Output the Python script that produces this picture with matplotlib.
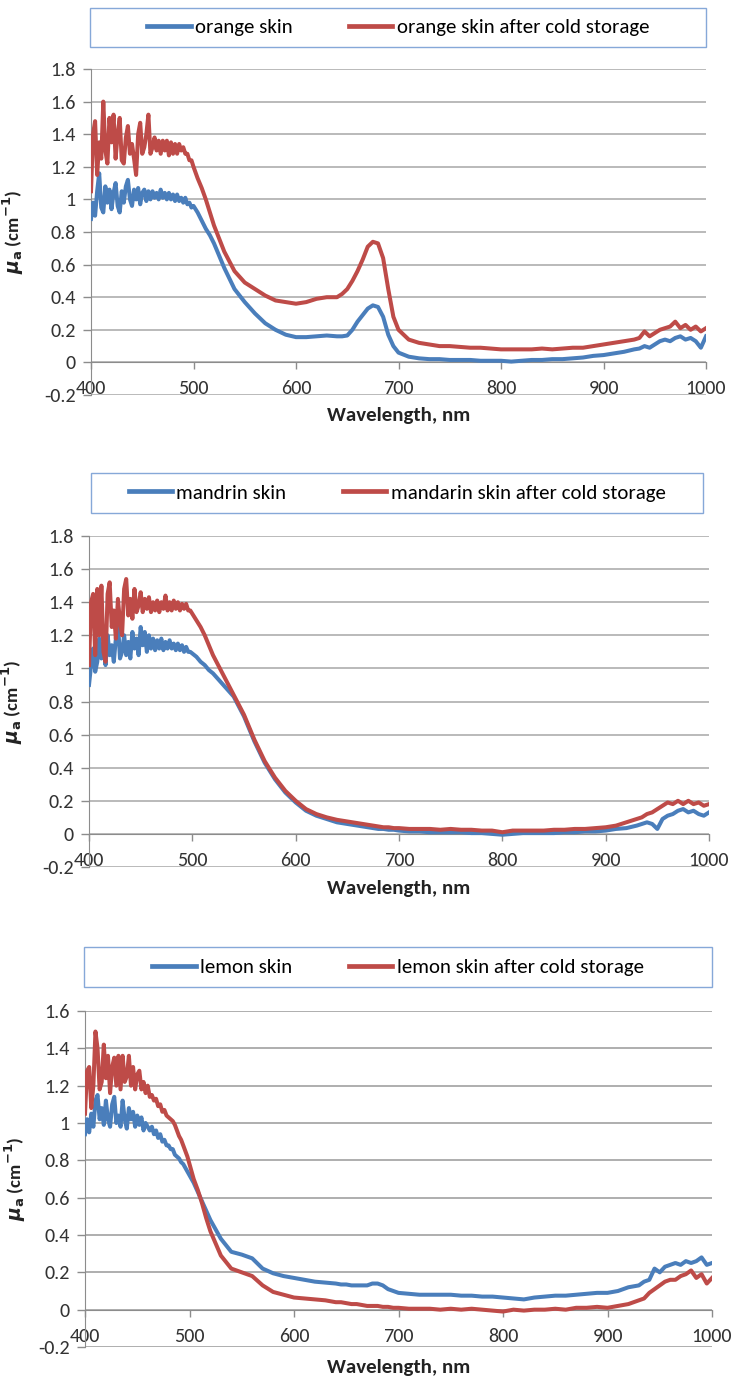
import numpy as np
import matplotlib
matplotlib.use("Agg")
import matplotlib.pyplot as plt
from matplotlib.lines import Line2D
from matplotlib.patches import Rectangle

plt.rcParams['font.family'] = ['Carlito', 'Liberation Sans Narrow', 'Lato', 'DejaVu Sans']
plt.rcParams['axes.unicode_minus'] = False
plt.rcParams['mathtext.fontset'] = 'custom'
plt.rcParams['mathtext.rm'] = 'DejaVu Sans:bold'
plt.rcParams['mathtext.it'] = 'DejaVu Sans:italic:bold'
plt.rcParams['mathtext.bf'] = 'DejaVu Sans:bold'

BLUE = '#4a7ebb'
RED = '#be4b48'

# wavelength sampling (nm): dense where the spectra are noisy
wavelength = [400, 402, 404, 406, 408, 410, 412, 414, 416, 418, 420, 422, 424, 426, 428, 430,
              432, 434, 436, 438, 440, 442, 444, 446, 448, 450, 452, 454, 456, 458, 460, 462,
              464, 466, 468, 470, 472, 474, 476, 478, 480, 482, 484, 486, 488, 490, 492, 494,
              496, 498, 500,
              504, 508, 512, 516, 520,
              530, 540, 550, 560, 570, 580, 590, 600, 610, 620, 630, 640,
              645, 650, 655, 660, 665, 670, 675, 680, 685, 690, 695, 700,
              710, 720, 730, 740, 750, 760, 770, 780, 790, 800, 810, 820, 830, 840, 850,
              860, 870, 880, 890, 900, 910, 920, 930,
              935, 940, 945, 950, 955, 960, 965, 970, 975, 980, 985, 990, 995, 1000]

orange_fresh = [0.88, 0.98, 0.90, 1.05, 1.16, 0.95, 0.92, 1.08, 0.98, 1.06, 0.94, 1.04, 1.10, 0.96,
                0.92, 1.05, 0.98, 1.08, 1.12, 1.00, 0.96, 1.06, 1.00, 1.07, 0.97, 1.04, 1.06, 0.99,
                1.05, 1.00, 1.05, 1.01, 1.04, 1.00, 1.06, 1.01, 1.04, 1.00, 1.04, 1.00, 1.03, 0.99,
                1.03, 0.99, 1.01, 0.98, 1.01, 0.97, 0.98, 0.95, 0.96,
                0.92, 0.87, 0.82, 0.78, 0.73,
                0.58, 0.45, 0.37, 0.30, 0.24, 0.20, 0.17, 0.155, 0.155, 0.16, 0.165, 0.16,
                0.16, 0.165, 0.20, 0.25, 0.29, 0.33, 0.35, 0.34, 0.28, 0.17, 0.10, 0.06,
                0.035, 0.025, 0.02, 0.02, 0.015, 0.015, 0.015, 0.01, 0.01, 0.01, 0.005, 0.01,
                0.015, 0.015, 0.02, 0.02, 0.025, 0.03, 0.04, 0.045, 0.055, 0.065, 0.08,
                0.085, 0.10, 0.09, 0.11, 0.13, 0.14, 0.13, 0.15, 0.16, 0.14, 0.15, 0.13, 0.09, 0.16]
orange_cold = [1.05, 1.40, 1.48, 1.15, 1.35, 1.25, 1.60, 1.30, 1.22, 1.50, 1.35, 1.52, 1.25, 1.40,
               1.50, 1.24, 1.22, 1.38, 1.45, 1.28, 1.34, 1.25, 1.15, 1.40, 1.47, 1.28, 1.32, 1.40,
               1.52, 1.28, 1.32, 1.38, 1.30, 1.36, 1.28, 1.36, 1.30, 1.36, 1.27, 1.35, 1.28, 1.34,
               1.28, 1.34, 1.30, 1.32, 1.28, 1.28, 1.24, 1.24, 1.20,
               1.13, 1.07, 1.00, 0.92, 0.84,
               0.68, 0.56, 0.49, 0.45, 0.41, 0.38, 0.37, 0.36, 0.37, 0.39, 0.40, 0.40,
               0.42, 0.45, 0.50, 0.56, 0.63, 0.71, 0.74, 0.73, 0.64, 0.45, 0.28, 0.20,
               0.14, 0.12, 0.11, 0.10, 0.10, 0.095, 0.09, 0.09, 0.085, 0.08, 0.08, 0.08,
               0.08, 0.085, 0.08, 0.085, 0.09, 0.09, 0.10, 0.11, 0.12, 0.13, 0.14,
               0.15, 0.19, 0.16, 0.18, 0.20, 0.21, 0.22, 0.25, 0.21, 0.23, 0.20, 0.22, 0.19, 0.21]

mandarin_fresh = [0.90, 1.02, 1.12, 0.98, 1.04, 1.18, 1.06, 1.15, 1.02, 1.20, 1.08, 1.14, 1.04, 1.18,
                  1.28, 1.06, 1.10, 1.20, 1.08, 1.16, 1.06, 1.22, 1.12, 1.18, 1.08, 1.25, 1.14, 1.22,
                  1.10, 1.20, 1.12, 1.18, 1.11, 1.17, 1.12, 1.18, 1.11, 1.16, 1.12, 1.17, 1.12, 1.15,
                  1.11, 1.15, 1.11, 1.14, 1.10, 1.13, 1.10, 1.10, 1.09,
                  1.07, 1.04, 1.02, 0.99, 0.97,
                  0.90, 0.83, 0.71, 0.56, 0.43, 0.33, 0.25, 0.19, 0.14, 0.11, 0.09, 0.07,
                  0.065, 0.06, 0.055, 0.05, 0.045, 0.04, 0.035, 0.03, 0.03, 0.025, 0.025, 0.02,
                  0.015, 0.015, 0.01, 0.01, 0.01, 0.01, 0.005, 0.005, 0.0, -0.005, 0.0, 0.005,
                  0.005, 0.005, 0.005, 0.01, 0.01, 0.015, 0.015, 0.02, 0.03, 0.035, 0.05,
                  0.06, 0.07, 0.06, 0.03, 0.09, 0.11, 0.12, 0.14, 0.15, 0.13, 0.14, 0.12, 0.11, 0.13]
mandarin_cold = [1.02, 1.40, 1.45, 1.08, 1.48, 1.20, 1.50, 1.10, 1.04, 1.45, 1.52, 1.25, 1.35, 1.18,
                 1.42, 1.28, 1.20, 1.48, 1.54, 1.32, 1.42, 1.30, 1.48, 1.34, 1.38, 1.46, 1.34, 1.42,
                 1.36, 1.43, 1.34, 1.40, 1.35, 1.41, 1.34, 1.40, 1.36, 1.44, 1.35, 1.40, 1.35, 1.41,
                 1.36, 1.40, 1.35, 1.39, 1.36, 1.39, 1.35, 1.35, 1.33,
                 1.29, 1.25, 1.20, 1.14, 1.08,
                 0.96, 0.84, 0.72, 0.57, 0.44, 0.34, 0.26, 0.20, 0.15, 0.12, 0.10, 0.085,
                 0.08, 0.075, 0.07, 0.065, 0.06, 0.055, 0.05, 0.045, 0.04, 0.04, 0.035, 0.035,
                 0.03, 0.03, 0.03, 0.025, 0.03, 0.025, 0.025, 0.02, 0.02, 0.01, 0.02, 0.02,
                 0.02, 0.02, 0.025, 0.025, 0.03, 0.03, 0.035, 0.04, 0.05, 0.07, 0.09,
                 0.10, 0.12, 0.13, 0.15, 0.17, 0.19, 0.18, 0.20, 0.18, 0.20, 0.18, 0.19, 0.17, 0.18]

lemon_fresh = [0.94, 1.02, 0.95, 1.05, 0.98, 1.12, 1.15, 1.02, 1.08, 0.99, 1.12, 1.02, 0.98, 1.10,
               1.14, 1.00, 1.04, 0.98, 1.12, 1.02, 0.97, 1.08, 1.02, 1.06, 0.98, 1.04, 0.99, 1.03,
               0.96, 1.00, 0.98, 0.96, 0.98, 0.94, 0.96, 0.92, 0.94, 0.90, 0.91, 0.88, 0.88, 0.86,
               0.86, 0.83, 0.82, 0.81, 0.79, 0.78, 0.76, 0.74, 0.72,
               0.68, 0.63, 0.58, 0.53, 0.48,
               0.38, 0.31, 0.295, 0.275, 0.22, 0.195, 0.18, 0.17, 0.16, 0.15, 0.145, 0.14,
               0.135, 0.135, 0.13, 0.13, 0.13, 0.13, 0.14, 0.14, 0.13, 0.11, 0.10, 0.09,
               0.085, 0.08, 0.08, 0.08, 0.08, 0.075, 0.075, 0.07, 0.07, 0.065, 0.06, 0.055,
               0.065, 0.07, 0.075, 0.075, 0.08, 0.085, 0.09, 0.09, 0.10, 0.12, 0.13,
               0.15, 0.16, 0.22, 0.20, 0.23, 0.24, 0.25, 0.24, 0.26, 0.25, 0.26, 0.28, 0.24, 0.25]
lemon_cold = [1.05, 1.28, 1.30, 1.08, 1.20, 1.49, 1.40, 1.18, 1.22, 1.42, 1.24, 1.36, 1.16, 1.30,
              1.35, 1.20, 1.36, 1.18, 1.36, 1.22, 1.25, 1.36, 1.20, 1.30, 1.18, 1.26, 1.28, 1.18,
              1.22, 1.16, 1.20, 1.14, 1.15, 1.12, 1.13, 1.09, 1.10, 1.06, 1.07, 1.04, 1.03, 1.02,
              1.01, 0.99, 0.96, 0.93, 0.91, 0.88, 0.85, 0.82, 0.78,
              0.70, 0.64, 0.57, 0.49, 0.42,
              0.29, 0.22, 0.20, 0.18, 0.13, 0.095, 0.08, 0.065, 0.06, 0.055, 0.05, 0.04,
              0.04, 0.035, 0.03, 0.03, 0.025, 0.02, 0.02, 0.02, 0.015, 0.015, 0.01, 0.01,
              0.005, 0.005, 0.005, 0.0, 0.005, 0.0, 0.005, 0.0, -0.005, -0.01, 0.0, -0.005,
              0.0, 0.0, 0.005, 0.0, 0.01, 0.01, 0.015, 0.01, 0.02, 0.03, 0.05,
              0.06, 0.09, 0.11, 0.13, 0.15, 0.16, 0.16, 0.18, 0.19, 0.21, 0.17, 0.19, 0.14, 0.17]

panel_labels = [
    ("orange skin", "orange skin after cold storage"),
    ("mandrin skin", "mandarin skin after cold storage"),
    ("lemon skin", "lemon skin after cold storage"),
]
x_ticks = [400, 500, 600, 700, 800, 900, 1000]

W, H = 732, 1379


def px_rect(x0, y0, x1, y1):
    # pixel box (top-left origin) -> figure fraction rect
    return [x0 / W, 1 - y1 / H, (x1 - x0) / W, (y1 - y0) / H]


def draw_panel(fig, ax_box, leg_box, fresh, cold, labels, ymax, grid_c, xlab_y, ylab_x):
    ax = fig.add_axes(px_rect(*ax_box))
    ax.plot(wavelength, fresh, color=BLUE, lw=2.9, solid_joinstyle='round', zorder=3)
    ax.plot(wavelength, cold, color=RED, lw=2.9, solid_joinstyle='round', zorder=3)

    ax.set_xlim(400, 1000)
    ax.set_ylim(-0.2, ymax)
    yt = np.round(np.arange(-0.2, ymax + 0.01, 0.2), 1)
    ax.set_yticks(yt)
    ax.set_yticklabels([f"{v:g}" for v in yt])
    ax.set_xticks(x_ticks)
    ax.set_xticklabels([str(v) for v in x_ticks])
    ax.yaxis.grid(True, color=grid_c, lw=1.3)
    ax.set_axisbelow(True)

    for s in ('top', 'right'):
        ax.spines[s].set_visible(False)
    ax.spines['bottom'].set_position(('data', 0))
    ax.spines['bottom'].set_color('#8c8c8c')
    ax.spines['left'].set_color('#8c8c8c')
    ax.tick_params(axis='y', colors='#8c8c8c', length=6, width=1, labelsize=14.5,
                   labelcolor='#333333', pad=5)
    ax.tick_params(axis='x', colors='#8c8c8c', length=5, width=1, labelsize=14.5,
                   labelcolor='#333333', pad=8, direction='out')

    ax.set_xlabel("Wavelength, nm", fontsize=15, fontweight='bold', color='#222222')
    ax.xaxis.set_label_coords(0.5, xlab_y)
    ax.set_ylabel(r"$\mu_\mathrm{a}$ (cm$^\mathrm{-1}$)", fontsize=13.5,
                  fontweight='bold', color='#222222')
    ax.yaxis.set_label_coords(ylab_x, 0.5)

    lr = px_rect(*leg_box)
    fig.patches.append(Rectangle((lr[0], lr[1]), lr[2], lr[3], transform=fig.transFigure,
                                 fill=False, ec='#86a8d8', lw=1.0))
    handles = [Line2D([], [], color=BLUE, lw=3.4), Line2D([], [], color=RED, lw=3.4)]
    fig.legend(handles, labels, loc='center', bbox_to_anchor=lr,
               bbox_transform=fig.transFigure, ncol=2, frameon=False, fontsize=15,
               handlelength=2.1, handletextpad=0.2, columnspacing=2.7)
    return ax


fig = plt.figure(figsize=(W / 100, H / 100), dpi=100)

draw_panel(fig, (91, 69, 706, 395), (90, 8, 706, 47), orange_fresh, orange_cold,
           panel_labels[0], 1.8, '#b4b4b4', -0.038, -0.105)
draw_panel(fig, (89, 536, 709, 867), (91, 473, 703, 513), mandarin_fresh, mandarin_cold,
           panel_labels[1], 1.8, '#b4b4b4', -0.038, -0.104)
draw_panel(fig, (85, 1011, 712, 1347), (84, 947, 712, 987), lemon_fresh, lemon_cold,
           panel_labels[2], 1.6, '#a8a8a8', -0.036, -0.091)

fig.savefig("out.png", dpi=100)
